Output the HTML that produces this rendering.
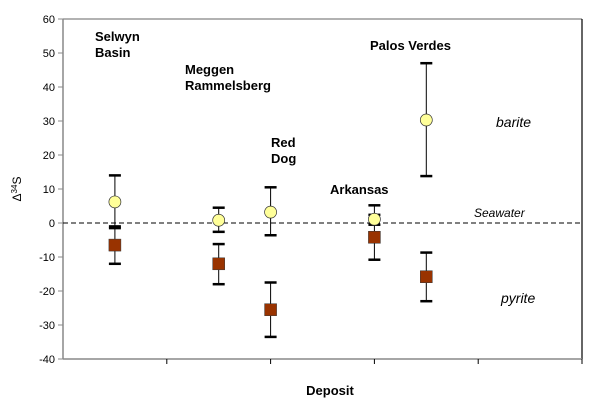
<!DOCTYPE html>
<html><head><meta charset="utf-8"><style>
body{margin:0;background:#fff;}
svg text{font-family:"Liberation Sans",Arial,sans-serif;}
</style></head><body>
<svg width="602" height="408" xmlns="http://www.w3.org/2000/svg" id="chart"></svg>
<script>
const deposits=["Selwyn Basin","Meggen Rammelsberg","Red Dog","Arkansas","Palos Verdes"];
const xPos=[0.5,1.5,2.0,3.0,3.5];
const bariteVal=[6.2,0.8,3.2,1.1,30.3];
const bariteHi=[14,4.5,10.5,5.2,47];
const bariteLo=[-1.5,-2.6,-3.6,-0.5,13.8];
const pyriteVal=[-6.5,-12,-25.5,-4.2,-15.8];
const pyriteHi=[-1,-6.2,-17.5,2.4,-8.7];
const pyriteLo=[-12,-18,-33.5,-10.8,-23];
const yTicks=[60,50,40,30,20,10,0,-10,-20,-30,-40];
const L=63,R=582,T=19,B=359,yMin=-40,yMax=60,xMax=5;
const sx=v=>L+(R-L)*v/xMax;
const sy=v=>B-(B-T)*(v-yMin)/(yMax-yMin);
const svg=document.getElementById('chart');
const NS='http://www.w3.org/2000/svg';
function mk(tag,attrs,name,parent){const e=document.createElementNS(NS,tag);for(const k in attrs)e.setAttribute(k,attrs[k]);


(parent||svg).appendChild(e);return e;}
mk('line',{x1:L,y1:T,x2:R,y2:T,stroke:'#999','stroke-width':1.5},'plot-top-border');
mk('line',{x1:R,y1:T,x2:R,y2:B,stroke:'#000','stroke-width':1.2},'plot-right-border');
mk('line',{x1:L,y1:T,x2:L,y2:B,stroke:'#888','stroke-width':1.5},'y-axis');
mk('line',{x1:L,y1:B,x2:R,y2:B,stroke:'#888','stroke-width':1.5},'x-axis');
yTicks.forEach(t=>{mk('line',{x1:L-5,y1:sy(t),x2:L,y2:sy(t),stroke:'#888','stroke-width':1},'y-tick');
const tx=mk('text',{x:L-8,y:sy(t)+4,'text-anchor':'end','font-size':11},'y-tick-label');tx.textContent=t;});
for(let i=1;i<=5;i++)mk('line',{x1:sx(i),y1:B,x2:sx(i),y2:B+5,stroke:'#000','stroke-width':1},'x-tick');
mk('line',{x1:L,y1:sy(0),x2:R,y2:sy(0),stroke:'#000','stroke-width':1,'stroke-dasharray':'5,3'},'seawater-line');
function err(x,hi,lo,name){mk('line',{x1:x,y1:sy(hi),x2:x,y2:sy(lo),stroke:'#000','stroke-width':1},name);
[hi,lo].forEach(v=>mk('line',{x1:x-6,y1:sy(v),x2:x+6,y2:sy(v),stroke:'#000','stroke-width':2.5},name+'-cap'));}
xPos.forEach((p,i)=>{const x=sx(p);
err(x,bariteHi[i],bariteLo[i],'barite-error-bar');
err(x,pyriteHi[i],pyriteLo[i],'pyrite-error-bar');});
xPos.forEach((p,i)=>{const x=sx(p);
mk('rect',{x:x-6,y:sy(pyriteVal[i])-6,width:12,height:12,fill:'#993300',stroke:'#333','stroke-width':0.5},'pyrite-point');
mk('circle',{cx:x,cy:sy(bariteVal[i]),r:6,fill:'#ffff99',stroke:'#333','stroke-width':0.7},'barite-point');});
function lbl(lines,x,y,name,opts){const t=mk('text',Object.assign({x:x,y:y,'font-size':13,'font-weight':'bold'},opts||{}),name);
lines.forEach((s,j)=>{const ts=document.createElementNS(NS,'tspan');ts.setAttribute('x',x);ts.setAttribute('dy',j?16:0);ts.textContent=s;t.appendChild(ts);});}
lbl(["Selwyn","Basin"],95,41,'label-selwyn-basin');
lbl(["Meggen","Rammelsberg"],185,74,'label-meggen-rammelsberg');
lbl(["Red","Dog"],271,147,'label-red-dog');
lbl(["Arkansas"],330,194,'label-arkansas');
lbl(["Palos Verdes"],370,50,'label-palos-verdes');
const it=(s,x,y,fs,name)=>{const t=mk('text',{x:x,y:y,'font-size':fs,'font-style':'italic'},name);t.textContent=s;};
it('barite',496,127,14,'barite-label');
it('Seawater',474,217,12,'seawater-label');
it('pyrite',501,303,14,'pyrite-label');
const xt=mk('text',{x:330,y:395,'text-anchor':'middle','font-size':13,'font-weight':'bold'},'x-axis-title');xt.textContent='Deposit';
const yt=mk('text',{x:0,y:0,'font-size':12,'text-anchor':'middle',transform:'translate(21,189) rotate(-90)'},'y-axis-title');
yt.innerHTML='Δ<tspan font-size="8" dy="-4">34</tspan><tspan dy="4">S</tspan>';
</script>
</body></html>
